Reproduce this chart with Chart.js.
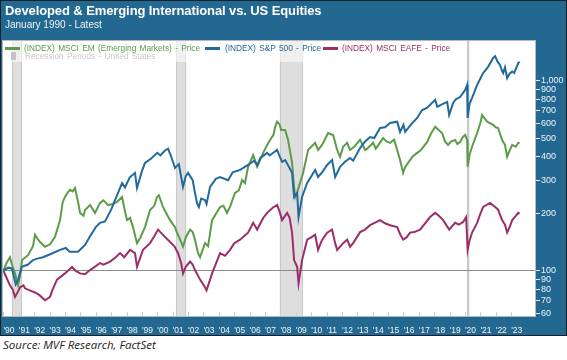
<!DOCTYPE html>
<html>
<head>
<meta charset="utf-8">
<script src="https://cdn.jsdelivr.net/npm/chart.js@4.4.0/dist/chart.umd.min.js"></script>
<style>
  body { margin: 0; background: #fff; font-family: "Liberation Sans", Arial, sans-serif; }
  #painel { position: absolute; left: 0; top: 0; width: 565px; height: 334px; background: #236891; border: 1px solid #15222c; }
  #grafico-wrap { position: absolute; left: 0; top: 0; width: 567px; height: 334px; }
  .titulo { position: absolute; left: 5px; top: 3px; color: #fff; font-weight: bold; font-size: 13px; letter-spacing: -0.1px; }
  .subtitulo { position: absolute; left: 5px; top: 19px; color: #f2f2f2; font-size: 10px; }
  .leg { position: absolute; font-size: 8.3px; word-spacing: 1px; white-space: nowrap; }
  .leg-linha { position: absolute; height: 3px; width: 15px; }
  .fonte { position: absolute; left: 3px; top: 337px; font-family: "Open Sans", sans-serif; font-style: italic; font-size: 11.5px; color: #222; }
</style>
</head>
<body>
<div id="painel"></div>
<div id="grafico-wrap"><canvas id="grafico" width="567" height="334"></canvas></div>
<div class="titulo">Developed &amp; Emerging International vs. US Equities</div>
<div class="subtitulo">January 1990 - Latest</div>

<div class="leg-linha" style="left:5px; top:47px; background:#5c9c48;"></div>
<div class="leg" style="left:24px; top:43px; color:#5c9c48;">(INDEX) MSCI EM (Emerging Markets) - Price</div>
<div class="leg-linha" style="left:205px; top:47px; background:#226a9c;"></div>
<div class="leg" style="left:225px; top:43px; color:#226a9c;">(INDEX) S&amp;P 500 - Price</div>
<div class="leg-linha" style="left:323px; top:47px; background:#9b2e68;"></div>
<div class="leg" style="left:342px; top:43px; color:#9b2e68;">(INDEX) MSCI EAFE - Price</div>
<div style="position:absolute; left:11px; top:52px; width:5px; height:8px; background:#c4c4c4;"></div>
<div class="leg" style="left:25px; top:51px; color:#c8c8c8;">Recession Periods - United States</div>

<div class="fonte">Source: MVF Research, FactSet</div>

<script>
// S&P 500 (indexado a 100 em jan/1990)
const spAnos = [1990.0, 1990.3, 1990.55, 1990.8, 1990.95, 1991.2, 1991.6, 1991.92, 1992.2, 1992.57, 1993.0, 1993.68, 1994.05, 1994.3, 1994.85, 1995.3, 1995.63, 1996.0, 1996.28, 1996.6, 1997.0, 1997.25, 1997.71, 1997.9, 1998.2, 1998.55, 1998.68, 1999.0, 1999.2, 1999.6, 2000.0, 2000.2, 2000.5, 2000.7, 2000.9, 2001.15, 2001.4, 2001.67, 2001.85, 2002.0, 2002.3, 2002.45, 2002.58, 2002.7, 2002.85, 2003.1, 2003.2, 2003.43, 2003.8, 2004.08, 2004.6, 2004.9, 2005.38, 2005.9, 2006.3, 2006.5, 2006.7, 2007.14, 2007.3, 2007.79, 2007.9, 2008.11, 2008.31, 2008.5, 2008.76, 2008.89, 2009.09, 2009.18, 2009.41, 2009.74, 2010.26, 2010.45, 2010.71, 2011.04, 2011.36, 2011.56, 2011.88, 2012.2, 2012.53, 2012.73, 2013.18, 2013.51, 2013.83, 2014.1, 2014.48, 2014.8, 2015.13, 2015.59, 2015.78, 2016.0, 2016.11, 2016.5, 2016.89, 2017.2, 2017.54, 2018.06, 2018.2, 2018.4, 2018.84, 2018.97, 2019.23, 2019.4, 2019.68, 2020.01, 2020.14, 2020.17, 2020.3, 2020.46, 2020.79, 2021.18, 2021.5, 2021.83, 2021.96, 2022.1, 2022.28, 2022.41, 2022.48, 2022.6, 2022.74, 2022.9, 2023.07, 2023.2, 2023.46, 2023.55];
const spValores = [100, 104, 103, 85, 90, 105, 108, 114, 116, 118, 122, 129, 132, 126, 126, 137, 152, 170, 179, 182, 210, 236, 290, 275, 310, 328, 273, 335, 370, 390, 418, 405, 430, 440, 400, 348, 365, 277, 315, 328, 300, 257, 228, 217, 240, 236, 225, 277, 305, 312, 300, 330, 340, 361, 380, 360, 393, 418, 405, 433, 410, 375, 383, 360, 328, 245, 257, 192, 245, 290, 340, 312, 330, 361, 383, 312, 353, 375, 393, 380, 443, 480, 506, 500, 565, 570, 600, 610, 539, 587, 539, 590, 638, 700, 722, 794, 730, 745, 775, 662, 766, 800, 822, 896, 953, 638, 760, 814, 953, 1100, 1185, 1320, 1350, 1270, 1210, 1130, 1100, 1180, 1034, 1090, 1120, 1100, 1240, 1260];

// MSCI EM
const emAnos = [1990.0, 1990.2, 1990.42, 1990.55, 1990.75, 1990.95, 1991.08, 1991.21, 1991.6, 1991.92, 1992.05, 1992.2, 1992.38, 1992.7, 1993.03, 1993.35, 1993.68, 1993.85, 1994.0, 1994.2, 1994.33, 1994.5, 1994.65, 1994.85, 1994.98, 1995.2, 1995.3, 1995.63, 1995.95, 1996.28, 1996.5, 1996.8, 1997.1, 1997.38, 1997.71, 1997.85, 1998.03, 1998.23, 1998.42, 1998.68, 1998.9, 1999.2, 1999.53, 1999.8, 1999.98, 2000.1, 2000.37, 2000.6, 2000.83, 2001.15, 2001.28, 2001.5, 2001.67, 2001.85, 2002.13, 2002.3, 2002.45, 2002.65, 2002.78, 2003.1, 2003.3, 2003.56, 2004.08, 2004.3, 2004.53, 2004.75, 2005.05, 2005.3, 2005.51, 2005.7, 2005.9, 2006.23, 2006.49, 2006.88, 2007.14, 2007.33, 2007.55, 2007.66, 2007.79, 2007.95, 2008.05, 2008.31, 2008.5, 2008.76, 2008.89, 2008.96, 2009.09, 2009.48, 2009.8, 2010.26, 2010.45, 2010.71, 2011.1, 2011.43, 2011.69, 2011.88, 2012.08, 2012.34, 2012.53, 2012.8, 2013.18, 2013.51, 2013.64, 2014.03, 2014.2, 2014.68, 2014.9, 2015.13, 2015.4, 2015.59, 2015.78, 2015.98, 2016.1, 2016.3, 2016.6, 2016.89, 2017.1, 2017.54, 2017.8, 2018.06, 2018.2, 2018.51, 2018.7, 2018.9, 2019.1, 2019.36, 2019.5, 2019.68, 2019.85, 2020.01, 2020.14, 2020.17, 2020.3, 2020.46, 2020.79, 2021.0, 2021.11, 2021.3, 2021.44, 2021.83, 2022.0, 2022.15, 2022.41, 2022.6, 2022.74, 2022.85, 2023.07, 2023.3, 2023.46, 2023.55];
const emValores = [100, 110, 118, 108, 97, 84, 95, 114, 121, 135, 155, 148, 142, 134, 138, 151, 185, 230, 245, 260, 267, 262, 273, 230, 202, 195, 209, 222, 202, 228, 235, 222, 225, 231, 245, 215, 185, 190, 170, 140, 150, 170, 209, 220, 245, 250, 217, 200, 185, 170, 159, 145, 134, 150, 165, 160, 146, 124, 118, 140, 135, 185, 217, 220, 202, 220, 257, 265, 301, 290, 353, 407, 353, 418, 460, 489, 520, 573, 610, 590, 552, 552, 489, 370, 277, 245, 260, 328, 433, 472, 433, 460, 532, 519, 433, 398, 450, 472, 433, 450, 489, 433, 440, 472, 440, 500, 480, 472, 490, 433, 383, 328, 350, 370, 400, 418, 430, 477, 530, 573, 560, 532, 480, 460, 480, 489, 465, 477, 505, 519, 490, 353, 410, 450, 532, 600, 662, 630, 610, 587, 570, 565, 489, 460, 398, 420, 460, 450, 472, 470];

// MSCI EAFE
const eafeAnos = [1990.0, 1990.2, 1990.42, 1990.6, 1990.75, 1990.95, 1991.08, 1991.3, 1991.4, 1991.7, 1992.05, 1992.3, 1992.7, 1993.03, 1993.2, 1993.48, 1994.0, 1994.46, 1994.7, 1994.98, 1995.3, 1995.63, 1996.0, 1996.28, 1996.5, 1996.93, 1997.3, 1997.58, 1997.85, 1998.23, 1998.55, 1998.68, 1998.85, 1999.07, 1999.53, 1999.8, 2000.05, 2000.2, 2000.5, 2000.83, 2001.1, 2001.35, 2001.55, 2001.67, 2001.85, 2002.13, 2002.3, 2002.45, 2002.78, 2003.1, 2003.2, 2003.56, 2004.08, 2004.4, 2004.73, 2005.0, 2005.38, 2005.9, 2006.23, 2006.49, 2006.88, 2007.14, 2007.5, 2007.79, 2007.95, 2008.11, 2008.44, 2008.6, 2008.76, 2008.89, 2009.09, 2009.18, 2009.41, 2009.74, 2010.0, 2010.26, 2010.45, 2010.7, 2011.04, 2011.36, 2011.56, 2011.69, 2012.08, 2012.34, 2012.53, 2012.73, 2013.18, 2013.5, 2013.83, 2014.48, 2014.8, 2015.13, 2015.59, 2015.8, 2015.98, 2016.2, 2016.43, 2016.7, 2017.08, 2017.73, 2018.06, 2018.3, 2018.58, 2018.97, 2019.36, 2019.6, 2019.88, 2020.07, 2020.17, 2020.3, 2020.46, 2020.79, 2021.0, 2021.18, 2021.63, 2021.96, 2022.15, 2022.41, 2022.6, 2022.74, 2022.9, 2023.07, 2023.3, 2023.46, 2023.55];
const eafeValores = [100, 92, 84, 80, 73, 78, 82, 84, 81, 79, 77, 75, 70, 73, 80, 90, 97, 105, 100, 97, 96, 101, 106, 110, 108, 112, 118, 124, 118, 129, 124, 105, 115, 129, 140, 152, 165, 160, 151, 142, 135, 124, 110, 97, 105, 112, 108, 101, 90, 82, 79, 97, 124, 120, 129, 140, 146, 159, 179, 165, 190, 202, 215, 222, 205, 185, 202, 190, 159, 114, 105, 86, 114, 146, 150, 155, 129, 145, 159, 165, 140, 129, 140, 146, 134, 140, 160, 165, 174, 185, 178, 174, 170, 155, 146, 150, 159, 160, 165, 192, 202, 195, 185, 165, 179, 175, 181, 192, 129, 145, 159, 179, 200, 217, 228, 217, 210, 185, 175, 159, 170, 185, 195, 202, 200];

// Recessões nos EUA (início, fim)
const recessoes = [[1990.58, 1991.21], [2001.21, 2001.88], [2007.96, 2009.46], [2020.13, 2020.29]];

// Marcas do eixo direito
const ticksY = [60, 70, 80, 90, 100, 200, 300, 400, 500, 600, 700, 800, 900, 1000];

const anosTicks = [];
for (let a = 1990; a <= 2023; a++) anosTicks.push(a);

function pontos(anos, valores) {
  return anos.map((a, i) => ({ x: a, y: valores[i] }));
}

const fundoPlot = {
  id: "fundoPlot",
  beforeDraw(chart) {
    const { ctx, chartArea: ca, scales } = chart;
    ctx.save();
    ctx.fillStyle = "#ffffff";
    ctx.fillRect(ca.left, ca.top, ca.right - ca.left, ca.bottom - ca.top);
    // faixas de recessão
    recessoes.forEach(([ini, fim]) => {
      const x1 = scales.x.getPixelForValue(ini);
      const x2 = scales.x.getPixelForValue(fim);
      ctx.fillStyle = "#dedede";
      ctx.fillRect(x1, ca.top, x2 - x1, ca.bottom - ca.top);
      ctx.strokeStyle = "#c9c9c9";
      ctx.lineWidth = 1;
      ctx.beginPath();
      ctx.moveTo(Math.round(x1) + 0.5, ca.top);
      ctx.lineTo(Math.round(x1) + 0.5, ca.bottom);
      ctx.moveTo(Math.round(x2) - 0.5, ca.top);
      ctx.lineTo(Math.round(x2) - 0.5, ca.bottom);
      ctx.stroke();
    });
    // fundo da legenda
    ctx.fillStyle = "rgba(255,255,255,0.55)";
    ctx.fillRect(ca.left, ca.top, 447, 21);
    ctx.restore();
  },
  afterDraw(chart) {
    const { ctx, chartArea: ca, scales } = chart;
    ctx.save();
    ctx.strokeStyle = "#cfcfcf";
    ctx.lineWidth = 1;
    ctx.beginPath();
    anosTicks.forEach((a) => {
      const x = Math.round(scales.x.getPixelForValue(a)) + 0.5;
      ctx.moveTo(x, ca.bottom);
      ctx.lineTo(x, ca.bottom - 4);
    });
    ctx.stroke();
    ctx.strokeStyle = "#b8b8b8";
    ctx.strokeRect(ca.left - 0.5, ca.top - 0.5, ca.right - ca.left + 1, ca.bottom - ca.top + 1);
    ctx.restore();
  },
};

const ctx = document.getElementById("grafico").getContext("2d");

new Chart(ctx, {
  type: "line",
  data: {
    datasets: [
      {
        label: "(INDEX) MSCI EAFE - Price",
        data: pontos(eafeAnos, eafeValores),
        borderColor: "#9b2e68",
      },
      {
        label: "(INDEX) S&P 500 - Price",
        data: pontos(spAnos, spValores),
        borderColor: "#226a9c",
      },
      {
        label: "(INDEX) MSCI EM (Emerging Markets) - Price",
        data: pontos(emAnos, emValores),
        borderColor: "#5c9c48",
      },
    ],
  },
  options: {
    responsive: false,
    animation: false,
    layout: { padding: { top: 41, left: 3, right: 0, bottom: 0 } },
    elements: {
      line: { borderWidth: 2, tension: 0 },
      point: { radius: 0 },
    },
    plugins: {
      legend: { display: false },
      tooltip: { enabled: false },
    },
    scales: {
      x: {
        type: "linear",
        min: 1989.97,
        max: 2024.55,
        afterBuildTicks: (s) => { s.ticks = anosTicks.map((v) => ({ value: v })); },
        afterFit: (s) => { s.height = 18; },
        grid: { display: false },
        border: { display: false },
        ticks: {
          autoSkip: false,
          maxRotation: 0,
          minRotation: 0,
          align: "start",
          padding: 2,
          color: "#eef3f7",
          font: { family: "'Liberation Sans', Arial", size: 8.5 },
          callback: (v) => "'" + String(v % 100).padStart(2, "0"),
        },
      },
      y: {
        type: "logarithmic",
        position: "right",
        min: 57.9,
        max: 1621,
        afterBuildTicks: (s) => { s.ticks = ticksY.map((v) => ({ value: v })); },
        afterFit: (s) => { s.width = 32; },
        border: { display: false },
        grid: {
          drawTicks: true,
          tickLength: 5,
          tickColor: "#e6ecf1",
          color: (c) => (c.tick && c.tick.value === 100 ? "#8c8c8c" : "rgba(0,0,0,0)"),
          lineWidth: 1,
        },
        ticks: {
          padding: 1,
          color: "#eef3f7",
          font: { family: "'Liberation Sans', Arial", size: 9 },
          callback: (v) => (v >= 1000 ? v.toLocaleString("en-US") : String(v)),
        },
      },
    },
  },
  plugins: [fundoPlot],
});
</script>
</body>
</html>
